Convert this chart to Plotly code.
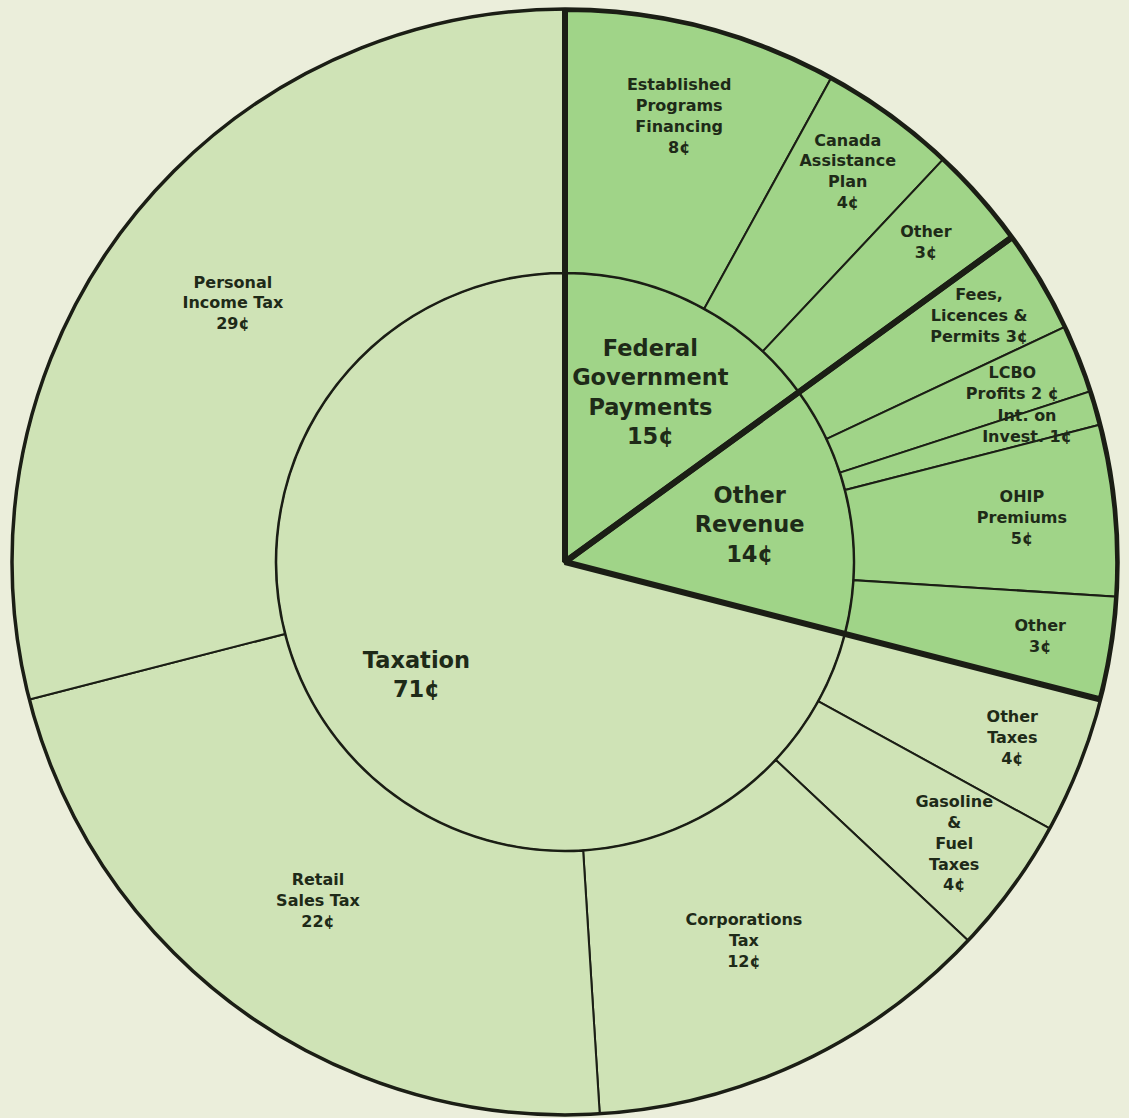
import plotly.graph_objects as go

# ---------------- data ----------------
groups = ["Federal Government Payments", "Other Revenue", "Taxation"]
group_values = [15, 14, 71]
group_label_fmt = ["Federal<br>Government<br>Payments<br>{}¢", "Other<br>Revenue<br>{}¢", "Taxation<br>{}¢"]

items = ["Established Programs Financing", "Canada Assistance Plan", "Other",
         "Fees, Licences & Permits", "LCBO Profits", "Int. on Invest.", "OHIP Premiums", "Other",
         "Other Taxes", "Gasoline & Fuel Taxes", "Corporations Tax", "Retail Sales Tax", "Personal Income Tax"]
item_parents = ["Federal Government Payments"] * 3 + ["Other Revenue"] * 5 + ["Taxation"] * 5
item_values = [8, 4, 3,
               3, 2, 1, 5, 3,
               4, 4, 12, 22, 29]
item_label_fmt = ["Established<br>Programs<br>Financing<br>{}¢", "Canada<br>Assistance<br>Plan<br>{}¢", "Other<br>{}¢",
                  "Fees,<br>Licences &<br>Permits {}¢", "LCBO<br>Profits {} ¢", "Int. on<br>Invest. {}¢",
                  "OHIP<br>Premiums<br>{}¢", "Other<br>{}¢",
                  "Other<br>Taxes<br>{}¢", "Gasoline<br>&<br>Fuel<br>Taxes<br>{}¢", "Corporations<br>Tax<br>{}¢",
                  "Retail<br>Sales Tax<br>{}¢", "Personal<br>Income Tax<br>{}¢"]

# ---------------- style ----------------
W, H = 1129, 1118
BG = "#ebeedb"
LIGHT = "#cfe3b6"
DARK_GREEN = "#a0d488"
INK = "#1b1e15"
TEXT = "#1e2a18"
FONT = "DejaVu Sans"
group_colors = {"Federal Government Payments": DARK_GREEN, "Other Revenue": DARK_GREEN, "Taxation": LIGHT}
HOLE = 0.523  # inner ring radius as fraction of outer radius

total = sum(group_values)
deg = 360.0 / total


def spans(values):
    out, acc = [], 0.0
    for v in values:
        out.append((acc * deg, v * deg))
        acc += v
    return out


g_sp = spans(group_values)
i_sp = spans(item_values)
g_theta = [a + w / 2 for a, w in g_sp]
g_width = [w for a, w in g_sp]
i_theta = [a + w / 2 for a, w in i_sp]
i_width = [w for a, w in i_sp]


def outer_label_r(v):
    if v >= 10:
        return 0.76
    if v >= 5:
        return 0.83
    return 0.87


fig = go.Figure()

# inner ring (group wedges)
fig.add_trace(go.Barpolar(
    theta=g_theta, width=g_width, r=[HOLE] * len(groups), base=[0] * len(groups),
    marker=dict(color=[group_colors[g] for g in groups], line=dict(color=INK, width=3)),
    hoverinfo="skip", showlegend=False))

# outer ring (items)
fig.add_trace(go.Barpolar(
    theta=i_theta, width=i_width, r=[1 - HOLE] * len(items), base=[HOLE] * len(items),
    marker=dict(color=[group_colors[p] for p in item_parents], line=dict(color=INK, width=2)),
    hoverinfo="skip", showlegend=False))

# thick outline around the non-tax groups
fig.add_trace(go.Barpolar(
    theta=g_theta, width=g_width, r=[1] * len(groups), base=[0] * len(groups),
    marker=dict(color="rgba(0,0,0,0)",
                line=dict(color=INK, width=[0 if g == "Taxation" else 6 for g in groups])),
    hoverinfo="skip", showlegend=False))

# labels
fig.add_trace(go.Scatterpolar(
    theta=i_theta, r=[outer_label_r(v) for v in item_values], mode="text",
    text=[f.format(v) for f, v in zip(item_label_fmt, item_values)],
    textfont=dict(family=FONT, size=16, color=TEXT, weight="bold"),
    hoverinfo="skip", showlegend=False))

fig.add_trace(go.Scatterpolar(
    theta=g_theta, r=[0.34] * len(groups), mode="text",
    text=[f.format(v) for f, v in zip(group_label_fmt, group_values)],
    textfont=dict(family=FONT, size=22.5, color=TEXT, weight="bold"),
    hoverinfo="skip", showlegend=False))

fig.update_layout(
    width=W, height=H,
    margin=dict(l=0, r=0, t=0, b=0),
    paper_bgcolor=BG, plot_bgcolor=BG,
    showlegend=False,
    polar=dict(
        domain=dict(x=[12 / W, 1118 / W], y=[(H - 1115) / H, (H - 9) / H]),
        bgcolor="rgba(0,0,0,0)",
        hole=0,
        bargap=0,
        radialaxis=dict(range=[0, 1], visible=False, showgrid=False),
        angularaxis=dict(rotation=90, direction="clockwise", showgrid=False, showticklabels=False,
                         ticks="", showline=True, linecolor=INK, linewidth=3.5),
    ),
)

fig.write_html(
    "out.html",
    config={"displayModeBar": False},
    post_script="document.body.style.margin='0';document.body.style.background='%s';" % BG,
)
